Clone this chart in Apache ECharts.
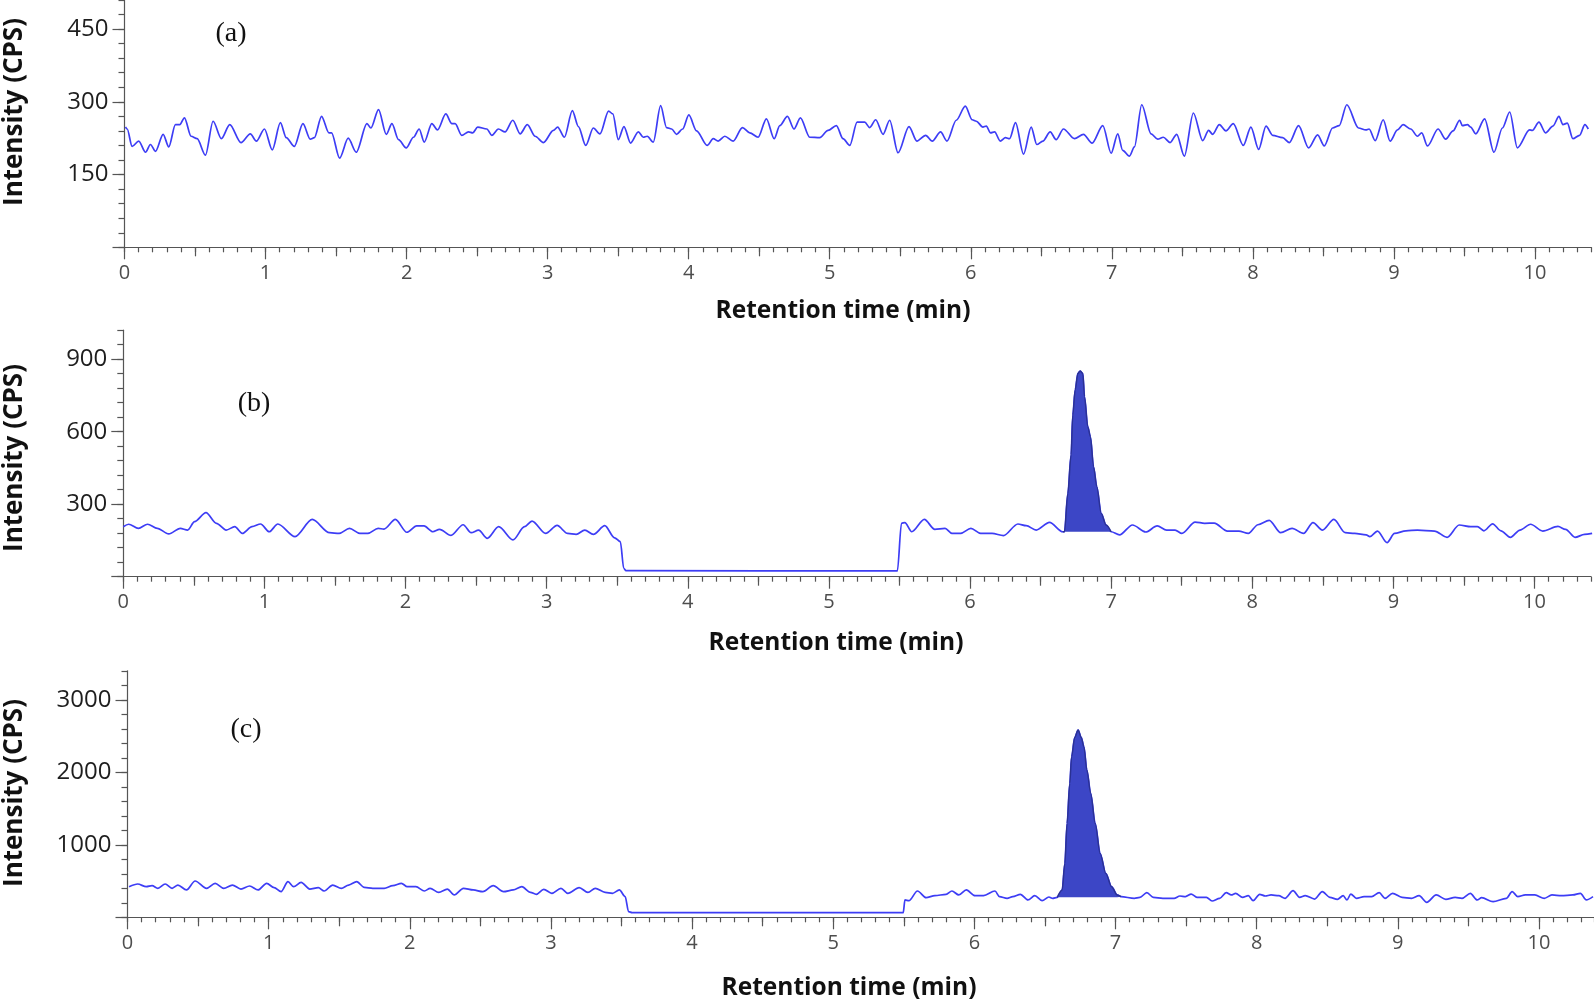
<!DOCTYPE html>
<html><head><meta charset="utf-8">
<script src="https://cdn.jsdelivr.net/npm/echarts@6/dist/echarts.min.js"></script>
<style>html,body{margin:0;padding:0;background:#fff;overflow:hidden}#c{width:1594px;height:1004px}</style>
</head><body><div id="c"></div>
<script>
// ---------- DATA (retention time in min, intensity in CPS) ----------
const traceA = [[0.007,248],[0.019,244],[0.054,208],[0.101,219],[0.149,196],[0.184,212],[0.220,198],[0.274,233],[0.314,207],[0.361,253],[0.392,253],[0.425,267],[0.472,229],[0.515,224],[0.574,190],[0.628,260],[0.687,224],[0.746,253],[0.826,216],[0.892,234],[0.935,219],[0.992,244],[1.048,201],[1.105,257],[1.147,226],[1.204,208],[1.265,255],[1.317,223],[1.346,226],[1.397,270],[1.449,236],[1.468,236],[1.525,184],[1.586,225],[1.643,196],[1.719,255],[1.747,246],[1.801,284],[1.856,233],[1.896,255],[1.943,222],[1.997,205],[2.049,227],[2.089,244],[2.125,217],[2.179,255],[2.219,242],[2.278,275],[2.321,255],[2.344,255],[2.391,231],[2.439,238],[2.469,236],[2.504,248],[2.569,244],[2.604,231],[2.651,244],[2.698,238],[2.753,262],[2.805,234],[2.856,253],[2.911,229],[2.970,216],[3.041,241],[3.071,248],[3.119,227],[3.175,282],[3.218,249],[3.270,210],[3.324,246],[3.371,234],[3.432,281],[3.462,275],[3.501,222],[3.541,249],[3.588,215],[3.643,238],[3.678,227],[3.706,229],[3.749,217],[3.801,292],[3.843,247],[3.879,244],[3.914,233],[3.957,244],[4.001,273],[4.056,240],[4.131,210],[4.174,224],[4.209,219],[4.256,229],[4.315,219],[4.381,247],[4.433,236],[4.492,227],[4.551,265],[4.606,224],[4.646,251],[4.700,270],[4.747,244],[4.792,267],[4.858,227],[4.929,226],[4.988,241],[5.047,251],[5.094,224],[5.142,210],[5.194,258],[5.248,258],[5.283,247],[5.326,263],[5.378,233],[5.425,262],[5.484,195],[5.562,249],[5.618,219],[5.680,231],[5.727,219],[5.786,238],[5.831,219],[5.897,262],[5.961,291],[6.010,263],[6.039,260],[6.086,248],[6.110,250],[6.140,236],[6.169,238],[6.209,219],[6.246,226],[6.275,224],[6.317,257],[6.374,192],[6.428,248],[6.468,212],[6.511,219],[6.563,238],[6.605,222],[6.657,244],[6.735,224],[6.799,233],[6.860,215],[6.936,251],[6.995,194],[7.042,234],[7.077,200],[7.125,188],[7.160,207],[7.212,294],[7.278,234],[7.325,223],[7.365,227],[7.413,216],[7.460,233],[7.514,188],[7.578,277],[7.644,220],[7.686,241],[7.715,233],[7.762,253],[7.809,240],[7.861,255],[7.932,210],[7.986,248],[8.041,202],[8.093,250],[8.140,231],[8.211,226],[8.258,216],[8.324,251],[8.395,205],[8.459,232],[8.506,209],[8.565,246],[8.612,251],[8.666,294],[8.749,246],[8.801,242],[8.824,244],[8.867,220],[8.924,263],[8.973,219],[9.025,242],[9.065,253],[9.119,244],[9.167,229],[9.197,236],[9.238,209],[9.313,244],[9.367,223],[9.419,240],[9.466,262],[9.485,251],[9.521,253],[9.544,248],[9.580,234],[9.643,265],[9.709,196],[9.769,246],[9.821,279],[9.875,205],[9.962,242],[9.981,241],[10.028,258],[10.075,236],[10.127,250],[10.170,270],[10.198,253],[10.229,256],[10.269,224],[10.316,231],[10.354,253],[10.378,244]];

const traceB = [[0.000,207],[0.038,217],[0.107,200],[0.172,217],[0.241,200],[0.322,177],[0.404,200],[0.456,193],[0.505,228],[0.586,265],[0.660,221],[0.729,193],[0.790,207],[0.843,179],[0.912,207],[0.973,218],[1.034,186],[1.095,218],[1.217,166],[1.339,237],[1.461,182],[1.530,179],[1.603,200],[1.676,179],[1.733,179],[1.806,200],[1.847,197],[1.928,237],[2.009,184],[2.079,210],[2.131,210],[2.193,186],[2.241,196],[2.322,171],[2.408,215],[2.465,182],[2.518,193],[2.579,159],[2.660,207],[2.761,152],[2.843,207],[2.896,230],[2.993,179],[3.074,212],[3.148,179],[3.209,175],[3.270,193],[3.331,175],[3.412,211],[3.481,161],[3.522,145],[3.546,35],[3.562,25],[5.485,24],[5.514,221],[5.538,224],[5.587,186],[5.676,237],[5.750,196],[5.823,200],[5.872,179],[5.933,179],[6.006,200],[6.075,179],[6.156,179],[6.237,170],[6.339,218],[6.398,211],[6.469,193],[6.563,225],[6.657,186],[6.669,186],[6.693,345],[6.716,504],[6.728,669],[6.745,773],[6.764,841],[6.780,851],[6.799,841],[6.811,745],[6.834,621],[6.853,579],[6.875,455],[6.898,373],[6.929,262],[6.964,214],[7.000,186],[7.059,173],[7.151,214],[7.245,185],[7.326,210],[7.393,193],[7.453,193],[7.501,179],[7.595,226],[7.662,221],[7.730,222],[7.824,189],[7.905,189],[7.972,179],[8.040,215],[8.120,233],[8.201,182],[8.282,200],[8.363,179],[8.430,224],[8.497,193],[8.578,237],[8.659,182],[8.726,179],[8.807,173],[8.833,166],[8.887,189],[8.955,141],[9.008,179],[9.089,190],[9.170,193],[9.291,189],[9.380,163],[9.466,214],[9.547,207],[9.595,207],[9.641,190],[9.703,219],[9.762,190],[9.829,163],[9.897,193],[9.972,217],[10.058,189],[10.166,208],[10.220,196],[10.287,163],[10.354,175],[10.408,179]];

const traceC = [[0.011,422],[0.072,459],[0.133,422],[0.174,436],[0.215,400],[0.267,459],[0.316,400],[0.357,445],[0.418,377],[0.479,501],[0.560,400],[0.621,469],[0.682,400],[0.743,445],[0.804,390],[0.865,432],[0.925,377],[0.986,469],[1.039,409],[1.088,354],[1.137,492],[1.177,422],[1.230,482],[1.291,390],[1.352,409],[1.393,363],[1.454,445],[1.515,400],[1.567,445],[1.624,492],[1.677,413],[1.738,400],[1.819,400],[1.880,436],[1.941,469],[1.982,422],[2.043,422],[2.104,363],[2.144,400],[2.205,344],[2.266,390],[2.315,308],[2.380,400],[2.449,377],[2.518,354],[2.591,436],[2.664,354],[2.733,377],[2.794,422],[2.855,344],[2.896,317],[2.949,386],[3.006,331],[3.071,400],[3.120,331],[3.200,409],[3.262,344],[3.314,400],[3.384,344],[3.436,331],[3.485,377],[3.526,285],[3.550,78],[3.575,64],[5.496,64],[5.508,239],[5.536,229],[5.597,363],[5.658,271],[5.720,298],[5.800,317],[5.841,363],[5.890,308],[5.943,377],[6.004,298],[6.065,298],[6.146,363],[6.178,285],[6.232,262],[6.272,285],[6.326,317],[6.380,239],[6.428,298],[6.480,229],[6.528,280],[6.555,262],[6.587,275],[6.622,376],[6.641,744],[6.657,1296],[6.676,1848],[6.689,2216],[6.711,2482],[6.735,2583],[6.757,2482],[6.776,2354],[6.797,2031],[6.824,1710],[6.856,1296],[6.891,882],[6.931,606],[6.972,422],[7.012,308],[7.039,285],[7.133,262],[7.173,275],[7.222,340],[7.268,275],[7.335,262],[7.415,262],[7.456,294],[7.496,285],[7.536,321],[7.577,275],[7.644,275],[7.684,225],[7.738,262],[7.784,340],[7.820,308],[7.851,331],[7.900,275],[7.941,298],[7.975,229],[8.021,317],[8.061,294],[8.102,308],[8.156,298],[8.201,262],[8.258,367],[8.304,275],[8.344,298],[8.411,252],[8.465,354],[8.519,275],[8.572,248],[8.613,298],[8.640,239],[8.667,321],[8.707,262],[8.761,285],[8.815,285],[8.868,340],[8.909,262],[8.963,331],[9.030,275],[9.097,262],[9.151,298],[9.205,206],[9.272,308],[9.340,248],[9.406,275],[9.455,262],[9.514,331],[9.562,239],[9.594,271],[9.675,215],[9.769,262],[9.810,354],[9.850,285],[9.904,308],[9.971,308],[10.038,262],[10.092,308],[10.159,298],[10.240,308],[10.294,331],[10.335,239],[10.383,285]];

// integrated peak windows: [start time, end time, baseline intensity]
const peakB = [6.657, 7.000, 186];
const peakC = [6.587, 7.039, 275];

// tick values
const xMajorTicks = [0,1,2,3,4,5,6,7,8,9,10];
const xHalfTicks = [0.5,1.5,2.5,3.5,4.5,5.5,6.5,7.5,8.5,9.5];
const yTicksA = [0,150,300,450], yLabelsA = [150,300,450];
const yTicksB = [0,300,600,900], yLabelsB = [300,600,900];
const yTicksC = [0,1000,2000,3000], yLabelsC = [1000,2000,3000];

const panelLetters = ['(a)','(b)','(c)'];
const xTitle = 'Retention time (min)';
const yTitle = 'Intensity (CPS)';

// ---------- LAYOUT / STYLE ----------
const AXIS = '#555555';
const LINE = '#3d3df5';
const FILL = '#3c46c6';
const panels = [
  {trace: traceA, peak: null,  ymax: 510,  yMinor: 30,  yTicks: yTicksA, yLabels: yLabelsA, left: 124.5, top: 0,     height: 247.3, xmax: 10.4,  right: 2.6,
   letter: [231, 34], xt: [843, 311], yt: [15, 112]},
  {trace: traceB, peak: peakB, ymax: 1020, yMinor: 60,  yTicks: yTicksB, yLabels: yLabelsB, left: 123.3, top: 330.2, height: 246.5, xmax: 10.4,  right: 3,
   letter: [254, 404], xt: [836, 643], yt: [15, 458]},
  {trace: traceC, peak: peakC, ymax: 3400, yMinor: 200, yTicks: yTicksC, yLabels: yLabelsC, left: 127.5, top: 670.8, height: 246.5, xmax: 10.39, right: 0,
   letter: [246, 730], xt: [849, 988], yt: [15, 793]}
];

const grid = [], xAxis = [], yAxis = [], series = [], graphic = [];
panels.forEach((p, g) => {
  grid.push({left: p.left, right: p.right, top: p.top, height: p.height, outerBoundsMode: 'none', containLabel: false});
  const xBase = {type: 'value', gridIndex: g, min: 0, max: p.xmax, position: 'bottom', splitLine: {show: false},
                 axisLine: {show: false, onZero: false}, axisLabel: {show: false}};
  // minor ticks 0.1
  xAxis.push(Object.assign({}, xBase, {interval: 0.1,
    axisLine: {show: true, onZero: false, lineStyle: {color: AXIS, width: 1.2}},
    axisTick: {show: true, length: 5, lineStyle: {color: AXIS, width: 1.2}}}));
  // half-minute ticks
  xAxis.push(Object.assign({}, xBase, {
    axisTick: {show: true, length: 9, customValues: xHalfTicks, lineStyle: {color: AXIS, width: 1.2}}}));
  // major ticks + labels
  xAxis.push(Object.assign({}, xBase, {
    axisTick: {show: true, length: 12, customValues: xMajorTicks, lineStyle: {color: AXIS, width: 1.2}},
    axisLabel: {show: true, customValues: xMajorTicks, margin: 16, color: '#4d4d4d', fontSize: 20, fontFamily: 'Open Sans',
                formatter: v => String(Math.round(v))}}));
  const yBase = {type: 'value', gridIndex: g, min: 0, max: p.ymax, position: 'left', splitLine: {show: false},
                 axisLine: {show: false, onZero: false}, axisLabel: {show: false}};
  yAxis.push(Object.assign({}, yBase, {interval: p.yMinor,
    axisLine: {show: true, onZero: false, lineStyle: {color: AXIS, width: 1.2}},
    axisTick: {show: true, length: 6, lineStyle: {color: AXIS, width: 1.2}}}));
  yAxis.push(Object.assign({}, yBase, {
    axisTick: {show: true, length: 12, customValues: p.yTicks, lineStyle: {color: AXIS, width: 1.2}},
    axisLabel: {show: true, customValues: p.yLabels, margin: 16, color: '#1e1e1e', fontSize: 24, fontFamily: 'Open Sans',
                formatter: v => String(Math.round(v))}}));

  series.push({type: 'line', xAxisIndex: 3 * g, yAxisIndex: 2 * g, data: p.trace, symbol: 'none', smooth: 0.3,
               smoothMonotone: 'x', lineStyle: {color: LINE, width: 1.7}, z: 2, silent: true});
  if (p.peak) {
    const [t0, t1, base] = p.peak;
    const pk = p.trace.filter(d => d[0] >= t0 - 1e-9 && d[0] <= t1 + 1e-9);
    series.push({type: 'line', xAxisIndex: 3 * g, yAxisIndex: 2 * g, data: pk, symbol: 'none', smooth: 0.3,
                 smoothMonotone: 'x', lineStyle: {color: '#2a3192', width: 1.4},
                 areaStyle: {color: FILL, opacity: 1, origin: base}, z: 3, silent: true});
  }
  graphic.push({type: 'text', x: p.letter[0], y: p.letter[1],
    style: {text: panelLetters[g], font: '28px "Liberation Serif"', fill: '#111', align: 'center', verticalAlign: 'middle',
            textAlign: 'center', textVerticalAlign: 'middle'}});
  graphic.push({type: 'text', x: p.xt[0], y: p.xt[1],
    style: {text: xTitle, font: 'bold 24.5px "Open Sans"', fill: '#111', align: 'center', verticalAlign: 'middle',
            textAlign: 'center', textVerticalAlign: 'middle'}});
  graphic.push({type: 'text', x: p.yt[0], y: p.yt[1], rotation: Math.PI / 2,
    style: {text: yTitle, font: 'bold 26px "Open Sans"', fill: '#111', align: 'center', verticalAlign: 'middle',
            textAlign: 'center', textVerticalAlign: 'middle'}});
});

const chart = echarts.init(document.getElementById('c'), null, {renderer: 'canvas'});
chart.setOption({animation: false, backgroundColor: '#fff', grid, xAxis, yAxis, series, graphic});
</script>
</body></html>
